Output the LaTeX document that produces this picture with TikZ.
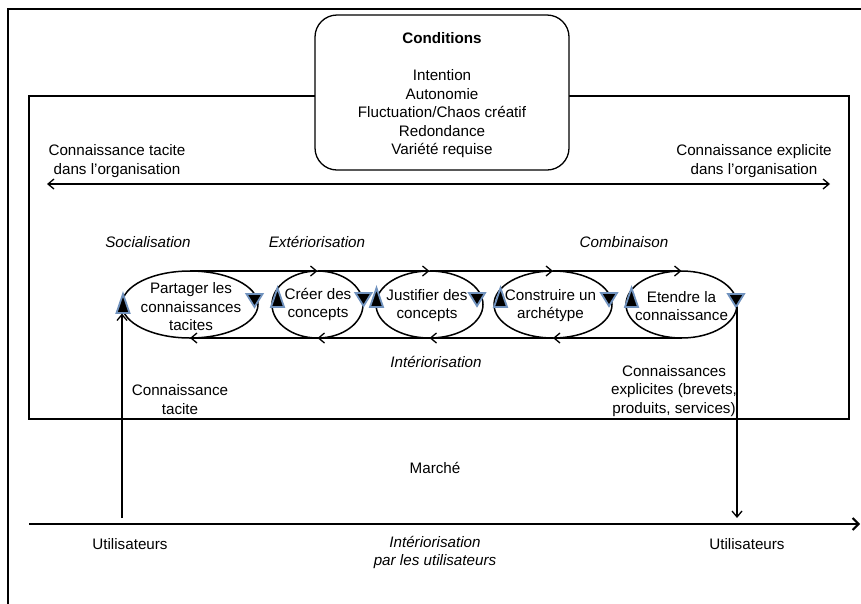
\documentclass[tikz,border=0pt]{standalone}
\usepackage{fontspec}
\setmainfont{Liberation Sans}
\usetikzlibrary{arrows.meta,shapes.geometric}
\definecolor{tricol}{RGB}{112,146,190}
\tikzset{
  txt/.style={font=\fontsize{15.2}{18.5}\selectfont, align=center, inner sep=0pt},
  itxt/.style={font=\fontsize{15.2}{18.5}\selectfont\itshape, align=center, inner sep=0pt},
  loopell/.style={draw, ellipse, minimum width=#1, minimum height=67pt, line width=1.5pt, outer sep=0pt, inner sep=0pt},
  condbox/.style={draw, fill=white, rounded corners=22pt, minimum width=254pt, minimum height=155pt, line width=1.3pt, inner sep=0pt},
  orgbox/.style={draw, minimum width=820pt, minimum height=323pt, line width=1.3pt, inner sep=0pt},
  flow/.style={line width=1.5pt, -{Straight Barb[length=6pt,width=10pt,line width=1.3pt]}},
  twoway/.style={line width=1.5pt, {Straight Barb[length=6pt,width=10pt,line width=1.3pt]}-{Straight Barb[length=6pt,width=10pt,line width=1.3pt]}},
  axisline/.style={line width=2.6pt, -{Straight Barb[length=6pt,width=12pt,line width=2pt]}},
  trishape/.style={fill=black, draw=tricol, line width=1.8pt, line join=miter},
  uptri/.pic={\filldraw[trishape] (-6.5,0) -- (6.5,0) -- (0,-19) -- cycle;},
  dntri/.pic={\filldraw[trishape] (-8,0) -- (8,0) -- (0,13) -- cycle;}
}
\begin{document}
\begin{tikzpicture}[x=1pt,y=-1pt]
\useasboundingbox (0,0) rectangle (861,603);
% outer frame
\draw[line width=2.6pt] (8,610) -- (8,9) -- (870,9);
% organisation box
\node[orgbox] (org) at (439,257.5) {};
% conditions
\node[condbox] (cond) at (442,92.5) {};
\node[txt] (condtxt) at (442,95.5) {\textbf{Conditions}\\[18.5pt]Intention\\Autonomie\\Fluctuation/Chaos créatif\\Redondance\\Variété requise};
% tacit / explicit axis
\node[txt] (tacorg) at (117,161) {Connaissance tacite\\dans l’organisation};
\node[txt] (exporg) at (754,161) {Connaissance explicite\\dans l’organisation};
\coordinate (dl) at (47,184);
\coordinate (dr) at (830,184);
\draw[twoway] (dl) -- (dr);
% mode labels
\node[itxt] (soc) at (148,242) {Socialisation};
\node[itxt] (ext) at (317,242) {Extériorisation};
\node[itxt] (comb) at (624,242) {Combinaison};
\node[itxt] (inter) at (436,362) {Intériorisation};
% loops
\node[loopell=136pt] (e1) at (190,304.5) {};
\node[loopell=91pt] (e2) at (317.5,304.5) {};
\node[loopell=107pt] (e3) at (429.5,304.5) {};
\node[loopell=118pt] (e4) at (553,304.5) {};
\node[loopell=111pt] (e5) at (681.5,304.5) {};
\node[txt] (t1) at (191,307) {Partager les\\connaissances\\tacites};
\node[txt] (t2) at (318,304.5) {Créer des\\concepts};
\node[txt] (t3) at (427,305.5) {Justifier des\\concepts};
\node[txt] (t4) at (550.5,305.5) {Construire un\\archétype};
\node[txt] (t5) at (681.5,306) {Etendre la\\connaissance};
\draw[flow] (e1.north) -- (e2.north);
\draw[flow] (e2.north) -- (e3.north);
\draw[flow] (e3.north) -- (e4.north);
\draw[flow] (e4.north) -- (e5.north);
\draw[flow] (e5.south) -- (e4.south);
\draw[flow] (e4.south) -- (e3.south);
\draw[flow] (e3.south) -- (e2.south);
\draw[flow] (e2.south) -- (e1.south);
% triangles
\pic at (123,313) {uptri};
\pic at (277.5,307) {uptri};
\pic at (376.5,307) {uptri};
\pic at (500.5,307) {uptri};
\pic at (631.5,307) {uptri};
\pic at (254.5,294) {dntri};
\pic at (363.5,293) {dntri};
\pic at (477,293) {dntri};
\pic at (609,293) {dntri};
\pic at (736,294) {dntri};
% market links
\coordinate (inL) at (122,313.5);
\coordinate (baseL) at (122,518);
\coordinate (outR) at (737,307);
\coordinate (baseR) at (737,518);
\draw[flow] (baseL) -- (inL);
\draw[flow] (outR) -- (baseR);
\node[txt] (conntac) at (180,399.5) {Connaissance\\tacite};
\node[txt] (connexp) at (674,391) {Connaissances\\explicites (brevets,\\produits, services)};
\node[txt] (marche) at (435,468) {Marché};
% users axis
\coordinate (axL) at (29,524);
\coordinate (axR) at (860,524);
\draw[axisline] (axL) -- (axR);
\node[txt] (util1) at (130,544) {Utilisateurs};
\node[txt] (util2) at (747,544) {Utilisateurs};
\node[itxt] (intuser) at (435,552.5) {Intériorisation\\par les utilisateurs};
\end{tikzpicture}
\end{document}
